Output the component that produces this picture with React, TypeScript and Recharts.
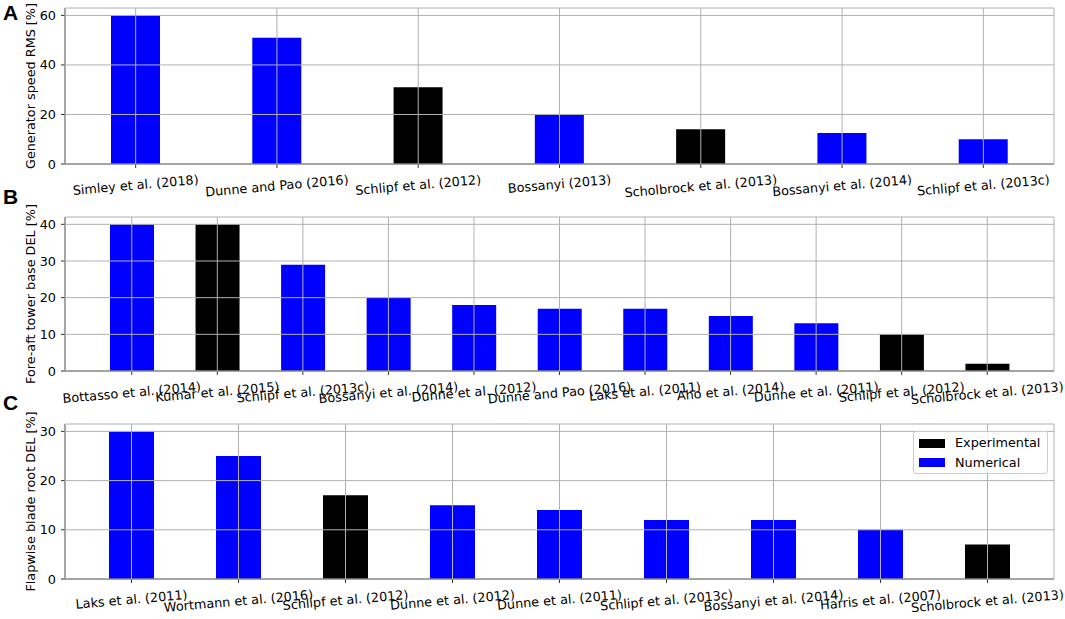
import React from 'react';
import { BarChart, Bar, XAxis, YAxis, CartesianGrid, Legend } from 'recharts';

// ---------- Data ----------
const panelANames = [
  'Simley et al. (2018)', 'Dunne and Pao (2016)', 'Schlipf et al. (2012)', 'Bossanyi (2013)',
  'Scholbrock et al. (2013)', 'Bossanyi et al. (2014)', 'Schlipf et al. (2013c)',
];
const panelAValues = [60, 51, 31, 20, 14, 12.5, 10];
const panelATypes = ['N', 'N', 'E', 'N', 'E', 'N', 'N'];

const panelBNames = [
  'Bottasso et al. (2014)', 'Kumar et al. (2015)', 'Schlipf et al. (2013c)', 'Bossanyi et al. (2014)',
  'Dunne et al. (2012)', 'Dunne and Pao (2016)', 'Laks et al. (2011)', 'Aho et al. (2014)',
  'Dunne et al. (2011)', 'Schlipf et al. (2012)', 'Scholbrock et al. (2013)',
];
const panelBValues = [40, 40, 29, 20, 18, 17, 17, 15, 13, 10, 2];
const panelBTypes = ['N', 'E', 'N', 'N', 'N', 'N', 'N', 'N', 'N', 'E', 'E'];

const panelCNames = [
  'Laks et al. (2011)', 'Wortmann et al. (2016)', 'Schlipf et al. (2012)', 'Dunne et al. (2012)',
  'Dunne et al. (2011)', 'Schlipf et al. (2013c)', 'Bossanyi et al. (2014)', 'Harris et al. (2007)',
  'Scholbrock et al. (2013)',
];
const panelCValues = [30, 25, 17, 15, 14, 12, 12, 10, 7];
const panelCTypes = ['N', 'N', 'E', 'N', 'N', 'N', 'N', 'N', 'E'];

const yTicksA = [0, 20, 40, 60];
const yTicksB = [0, 10, 20, 30, 40];
const yTicksC = [0, 10, 20, 30];

const seriesNames = { exp: 'Experimental', num: 'Numerical' };
const seriesColors = { exp: '#000000', num: '#0000ff' };

// ---------- Helpers ----------
const FONT = "'DejaVu Sans', sans-serif";
const FS = 12.8;
let ctx: CanvasRenderingContext2D | null = null;
function textWidth(s: string, size: number) {
  if (!ctx) ctx = document.createElement('canvas').getContext('2d');
  if (!ctx) return s.length * size * 0.58;
  ctx.font = `${size}px 'DejaVu Sans'`;
  return ctx.measureText(s).width;
}

function buildRows(names: string[], values: number[], types: string[]) {
  return names.map((name, i) => ({
    name,
    exp: types[i] === 'E' ? values[i] : null,
    num: types[i] === 'N' ? values[i] : null,
  }));
}

const ANGLE = 5;
const RotTick = (props: any) => {
  const { x, y, payload } = props;
  const label = String(payload.value);
  const w = textWidth(label, FS);
  const h = FS * 1.17;
  const a = (ANGLE * Math.PI) / 180;
  const bh = w * Math.sin(a) + h * Math.cos(a);
  const cy = y + bh / 2;
  return (
    <text
      x={x}
      y={cy}
      textAnchor="middle"
      dominantBaseline="central"
      transform={`rotate(${-ANGLE} ${x} ${cy})`}
      fontFamily={FONT}
      fontSize={FS}
      fill="#000"
    >
      {label}
    </text>
  );
};

const LegendBox = (props: any) => {
  const payload = props.payload || [];
  return (
    <div
      style={{
        width: 133,
        height: 41,
        border: '1px solid #cccccc',
        borderRadius: 3,
        background: 'rgba(255,255,255,0.85)',
        position: 'absolute',
        left: 0,
        top: 0,
        fontFamily: FONT,
        fontSize: FS,
        color: '#000',
      }}
    >
      {payload.map((p: any, i: number) => (
        <div key={i} style={{ position: 'absolute', left: 0, top: 3 + i * 19.5, height: 16, display: 'flex', alignItems: 'center' }}>
          <div style={{ width: 26, height: 9, background: p.color, marginLeft: 5 }} />
          <span style={{ marginLeft: 10, lineHeight: '16px', whiteSpace: 'nowrap' }}>{p.value}</span>
        </div>
      ))}
    </div>
  );
};

type PanelProps = {
  rows: any[];
  yTicks: number[];
  yMax: number;
  yLabel: string;
  top: number;
  height: number;
  plotTop: number;
  xAxisHeight: number;
  pad: number;
  barSize: number;
  legend?: boolean;
};

const PLOT_LEFT = 65;
const PLOT_RIGHT = 1054;
const W = 1065;
const SPINE = '#333333';

const Panel = ({ rows, yTicks, yMax, yLabel, top, height, plotTop, xAxisHeight, pad, barSize, legend }: PanelProps) => (
  <div style={{ position: 'absolute', left: 0, top, width: W, height }}>
    <BarChart
      width={W}
      height={height}
      data={rows}
      margin={{ top: plotTop, right: W - PLOT_RIGHT, bottom: 0, left: 0 }}
      barCategoryGap={0}
      style={{ overflow: 'visible' }}
    >
      <XAxis
        dataKey="name"
        interval={0}
        height={xAxisHeight}
        padding={{ left: pad, right: pad }}
        tick={<RotTick />}
        tickSize={4}
        tickMargin={4}
        axisLine={{ stroke: SPINE }}
        tickLine={{ stroke: SPINE }}
      />
      <XAxis xAxisId="top" dataKey="name" orientation="top" height={0} tick={false} tickLine={false} axisLine={{ stroke: SPINE }} />
      <YAxis
        width={PLOT_LEFT}
        domain={[0, yMax]}
        ticks={yTicks}
        interval={0}
        allowDataOverflow
        tickSize={4}
        tickMargin={5}
        tick={{ fontFamily: FONT, fontSize: FS, fill: '#000' }}
        axisLine={{ stroke: SPINE }}
        tickLine={{ stroke: SPINE }}
        label={{
          content: (p: any) => {
            const vb = p.viewBox || { y: 0, height: 0 };
            const cy = vb.y + vb.height / 2;
            return (
              <text
                x={30}
                y={cy}
                textAnchor="middle"
                dominantBaseline="central"
                transform={`rotate(-90 30 ${cy})`}
                fontFamily={FONT}
                fontSize={FS}
                fill="#000"
              >
                {yLabel}
              </text>
            );
          },
        }}
      />
      <YAxis yAxisId="right" orientation="right" width={0} domain={[0, yMax]} tick={false} tickLine={false} axisLine={{ stroke: SPINE }} />
      <Bar dataKey="exp" name={seriesNames.exp} stackId="s" fill={seriesColors.exp} barSize={barSize} isAnimationActive={false} />
      <Bar dataKey="num" name={seriesNames.num} stackId="s" fill={seriesColors.num} barSize={barSize} isAnimationActive={false} />
      <CartesianGrid stroke="#b0b0b0" strokeWidth={1} {...({ zIndex: 1000 } as any)} />
      {legend && (
        <Legend
          content={<LegendBox />}
          wrapperStyle={{ position: 'absolute', left: 913, top: 21, width: 0, height: 0, overflow: 'visible' }}
        />
      )}
    </BarChart>
  </div>
);

export default function App() {
  const rowsA = buildRows(panelANames, panelAValues, panelATypes);
  const rowsB = buildRows(panelBNames, panelBValues, panelBTypes);
  const rowsC = buildRows(panelCNames, panelCValues, panelCTypes);
  return (
    <div style={{ position: 'absolute', left: 0, top: 0, width: W, height: 619, background: '#fff', overflow: 'hidden' }}>
      <Panel rows={rowsA} yTicks={yTicksA} yMax={63} yLabel="Generator speed RMS [%]" top={0} height={200} plotTop={8} xAxisHeight={36} pad={0} barSize={49} />
      <Panel rows={rowsB} yTicks={yTicksB} yMax={42} yLabel="Fore-aft tower base DEL [%]" top={200} height={210} plotTop={17} xAxisHeight={39} pad={24} barSize={44} />
      <Panel rows={rowsC} yTicks={yTicksC} yMax={31.5} yLabel="Flapwise blade root DEL [%]" top={410} height={209} plotTop={14} xAxisHeight={40} pad={13} barSize={45} legend />
      <svg width={W} height={619} style={{ position: 'absolute', left: 0, top: 0, pointerEvents: 'none' }}>
        <text x={3} y={20} fontFamily="'Liberation Sans', Arial, sans-serif" fontWeight="bold" fontSize={21}>A</text>
        <text x={3} y={204} fontFamily="'Liberation Sans', Arial, sans-serif" fontWeight="bold" fontSize={21}>B</text>
        <text x={3} y={410} fontFamily="'Liberation Sans', Arial, sans-serif" fontWeight="bold" fontSize={21}>C</text>
      </svg>
    </div>
  );
}
